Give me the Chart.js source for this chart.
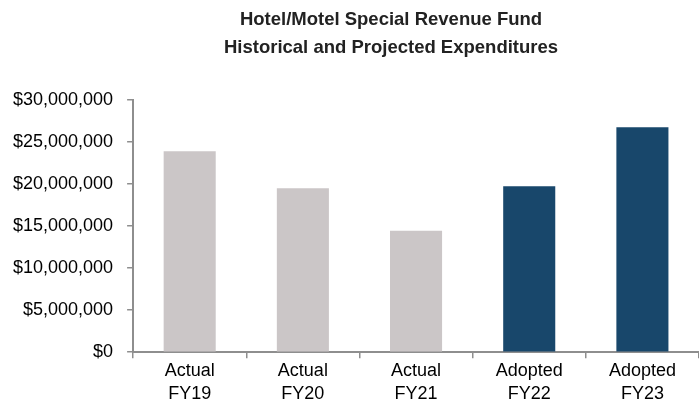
<!DOCTYPE html>
<html>
<head>
<meta charset="utf-8">
<script src="https://cdn.jsdelivr.net/npm/chart.js@4"></script>
<style>
  html, body { margin: 0; padding: 0; background: #fff; }
  #wrap { width: 699px; height: 413px; }
</style>
</head>
<body>
<div id="wrap"><canvas id="chart"></canvas></div>
<script>
const titleLines = ['Hotel/Motel Special Revenue Fund', 'Historical and Projected Expenditures'];
const categories = [['Actual', 'FY19'], ['Actual', 'FY20'], ['Actual', 'FY21'], ['Adopted', 'FY22'], ['Adopted', 'FY23']];
const expenditures = [23900000, 19500000, 14450000, 19750000, 26750000];
const isProjected = [false, false, false, true, true];

const FONT = "'Liberation Sans', Arial, sans-serif";
const axisGray = '#8e8e8e';

// title drawn by hand so it sits where the original had it (a bit right of canvas center)
const titlePlugin = {
    id: 'twoLineTitle',
    afterDraw(chart) {
        const ctx = chart.ctx;
        ctx.save();
        ctx.font = 'bold 18.5px ' + FONT;
        ctx.fillStyle = '#222';
        ctx.textAlign = 'center';
        ctx.textBaseline = 'middle';
        titleLines.forEach((t, i) => ctx.fillText(t, 391, 20 + i * 28));
        ctx.restore();
    }
};

const ctx = document.getElementById('chart').getContext('2d');
const chart = new Chart(ctx, {
    type: 'bar',
    data: {
        labels: categories,
        datasets: [{
            data: expenditures,
            backgroundColor: isProjected.map(p => p ? '#18476b' : '#cbc6c7'),
            barPercentage: 0.46,
            categoryPercentage: 1.0
        }]
    },
    options: {
        responsive: true,
        maintainAspectRatio: false,
        animation: false,
        layout: { padding: { top: 100, left: -1, right: 0, bottom: 6 } },
        plugins: {
            legend: { display: false },
            title: { display: false },
            tooltip: { enabled: false }
        },
        scales: {
            x: {
                grid: {
                    offset: true,
                    drawOnChartArea: false,
                    tickLength: 6,
                    color: axisGray,
                    lineWidth: 1.5
                },
                border: { color: axisGray, width: 2 },
                ticks: {
                    color: '#000',
                    font: { family: FONT, size: 18, lineHeight: 1.3 },
                    padding: 1,
                    maxRotation: 0
                }
            },
            y: {
                min: 0,
                max: 30000000,
                grid: {
                    drawOnChartArea: false,
                    tickLength: 6,
                    color: axisGray,
                    lineWidth: 1.5
                },
                border: { color: axisGray, width: 2 },
                ticks: {
                    stepSize: 5000000,
                    color: '#000',
                    font: { family: FONT, size: 18 },
                    padding: 14,
                    callback: v => '$' + v.toLocaleString('en-US')
                }
            }
        }
    },
    plugins: [titlePlugin]
});
</script>
</body>
</html>
